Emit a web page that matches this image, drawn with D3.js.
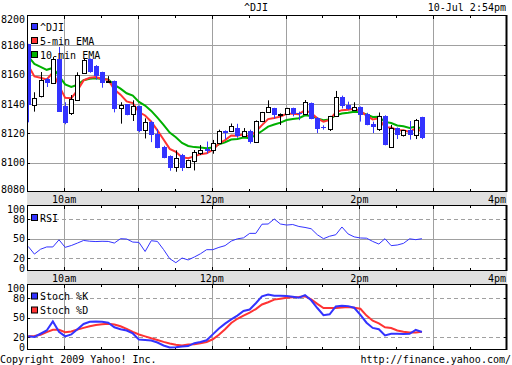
<!DOCTYPE html>
<html>
<head>
<meta charset="utf-8">
<script src="https://cdn.jsdelivr.net/npm/d3@7"></script>
<style>
body { margin: 0; background: #fff; }
text { font-family: "DejaVu Sans Mono", monospace; font-size: 10px; fill: #000; }
</style>
</head>
<body>
<div id="chart"></div>
<script>
// 5-minute candles from 9:30
var opens  = [8180.7,8139.3,8145.3,8157,8154.3,8170.7,8138.8,8134.3,8142.5,8160.7,8170.7,8166.1,8161.6,8154.5,8155.7,8137.1,8139.8,8133,8138.8,8122.5,8127.9,8119.8,8110.7,8104.7,8096.6,8105.2,8096.6,8101.1,8106.9,8109.3,8108.4,8113.4,8121.6,8121.1,8123.4,8118.4,8121.6,8113.9,8127.9,8134.3,8137.1,8132.6,8133,8137.1,8133.6,8133,8140.7,8130.2,8124.3,8123,8131.6,8144.8,8139.3,8136.1,8138,8133.4,8126.2,8122.5,8132,8110.2,8123.4,8118.9,8122.1,8118.4,8131.1];
var highs  = [8181,8148,8161.8,8157.7,8172,8178.9,8141.2,8146.1,8161.6,8171,8171,8166.5,8162,8159,8156,8141.2,8140,8142.5,8139,8130.2,8128.5,8123,8111.5,8105,8108.4,8106,8102,8108.6,8112,8114.4,8115.5,8122.5,8122,8126.7,8126.5,8123.6,8122.5,8128.8,8134.6,8142.5,8137.4,8133.6,8137.4,8137.5,8134.8,8142.7,8141,8131,8125.5,8131.9,8148.9,8145.7,8141.6,8141.2,8138.3,8134,8128,8134.2,8132.3,8125.7,8124,8122.3,8128.4,8129.8,8131.3];
var lows   = [8127.5,8134.8,8144.5,8151.6,8154,8134.8,8126.2,8132.5,8142.5,8160.5,8161.3,8156.6,8151.1,8154.3,8134.3,8126.6,8132.3,8128.4,8120.7,8116.5,8114,8109.8,8103,8094.5,8093.8,8094.3,8096.3,8094.7,8105.2,8106.2,8106.1,8113.2,8116,8121,8117,8118.2,8113,8113.6,8127.6,8134,8130.1,8125.7,8132.8,8131.6,8129,8132.8,8129.6,8120.2,8122.5,8121.6,8131.4,8137,8136.1,8135.9,8128,8125.5,8120.2,8121.6,8111.8,8110,8116.1,8117.8,8115.7,8116.1,8116.1];
var closes = [8138.8,8143.9,8156.2,8154.3,8170.7,8134.8,8127.5,8143.6,8159.8,8169.8,8161.6,8159.3,8154.3,8155.5,8136.6,8139.3,8132.5,8138.4,8122,8127.7,8119.3,8110.2,8103.4,8096.6,8103,8096.6,8101.6,8107,8108.8,8107.6,8113.4,8121.6,8120.2,8124.7,8118,8121.6,8114.3,8128.4,8134.3,8138,8132,8133.3,8137.1,8133.3,8132.6,8141.2,8129.8,8123,8123.4,8131.6,8144.8,8138.8,8136.6,8138,8132.5,8125.7,8124.3,8131.6,8112,8123.4,8118.4,8122.1,8118.4,8128.9,8116.6];

var ema5  = [8166.3,8158.8,8157.9,8156.7,8161.4,8152.5,8144.2,8144,8149.3,8156.1,8157.9,8158.4,8157,8156.5,8149.9,8146.4,8141.8,8140.6,8134.4,8132.2,8127.9,8122,8115.8,8109.4,8107.3,8103.7,8103,8104.3,8105.8,8106.4,8108.7,8113,8115.4,8118.5,8118.3,8119.4,8117.7,8121.3,8125.6,8129.7,8130.5,8131.4,8133.3,8133.3,8133.1,8135.8,8133.8,8130.2,8127.9,8129.1,8134.3,8135.8,8136.1,8136.7,8135.3,8132.1,8129.5,8130.2,8124.1,8123.9,8122.1,8122.1,8120.9,8123.6,8121.2];
var ema10 = [8172.5,8167.3,8165.3,8163.3,8164.6,8159.2,8153.4,8151.6,8153.1,8156.2,8157.2,8157.5,8157,8156.7,8153,8150.5,8147.3,8145.7,8141.4,8138.9,8135.3,8130.7,8125.8,8120.5,8117.3,8113.5,8111.4,8110.6,8110.3,8109.8,8110.4,8112.5,8113.9,8115.8,8116.2,8117.2,8116.7,8118.8,8121.6,8124.6,8126,8127.3,8129.1,8129.8,8130.3,8132.3,8131.8,8130.2,8129,8129.5,8132.3,8133.5,8134,8134.7,8134.3,8132.8,8131.2,8131.3,8127.8,8127,8125.4,8124.8,8123.7,8124.6,8123.2];

var rsi = [37.8,26,33.5,37,37,48,36.4,39.2,43,47,45.8,45.3,45.7,45.5,43,49.7,49.2,44.5,44,30,46.6,45.5,33,19,12.8,20,17,21.5,26.5,32.8,32.8,36.3,39,46,49.5,51,57.9,57.9,72,72.3,80,72.3,70.7,71.5,68.5,67,65,55.8,49.7,53.5,55.8,67.7,57,52.5,50.8,50.5,45.5,41.5,49.7,39,40,42.5,49.5,48.2,49.7];
var stochK = [21,20,25,30,44,28,21,24,32,40,43.5,43.8,43.6,42,35,32,30,25.5,16,15.3,14.5,11.5,7,4,4.2,5.5,6,10.5,12.2,15,24,33,40.5,47,53,60,62.3,72,82.5,85.3,83.5,83.5,83,82,80.5,84.5,76.5,64.6,53.5,55,67,68,67.5,65,54,42,34,32,22.5,25,25,24.8,25,31,27.7];
var stochD = [21,21.5,23.5,27.5,31,31.2,27.5,28.5,31.5,34,36.5,38.5,39.5,40.5,39.2,36.5,32.5,28,23.8,21,18,15.5,12.5,10,8,7,8.3,9,10.5,12.3,16.5,23.5,32,41.5,48,53,57.5,63,70,73.5,77.5,79,80.3,81,81.5,82.5,78,71,64.6,64.6,64.6,65.2,66,65,63.5,53,45,41,35,33.7,30,28,26.8,27,28.2];

var priceTicks = [8080,8100,8120,8140,8160,8180,8200];
var oscTicks = [0,20,50,80,100];
var hourLabels = [[10,"10am"],[12,"12pm"],[14,"2pm"],[16,"4pm"]];

var blue = "#3333ff", red = "#ff3333", green = "#00b000", grid = "#a0a0a0";
var L = 27, R = 507;

var times = closes.map(function(d, i) { return new Date(2009, 6, 10, 9, 30 + 5 * i); });
var x = d3.scaleTime()
	.domain([new Date(2009, 6, 10, 9, 30), new Date(2009, 6, 10, 16, 0)])
	.range([27.25, 507]);
function cx(i) { return x(times[i]) + 1; }
function at(h, m) { return new Date(2009, 6, 10, h, m); }

var svg = d3.select("#chart").append("svg")
	.attr("width", 512).attr("height", 365);

var panels = [
	{ top: 15, bottom: 192, y: d3.scaleLinear().domain([8080, 8200]).range([192, 16]), ticks: priceTicks, dashed: [] },
	{ top: 205, bottom: 271, y: d3.scaleLinear().domain([0, 100]).range([271, 206]), ticks: oscTicks, dashed: [20, 80] },
	{ top: 284, bottom: 350, y: d3.scaleLinear().domain([0, 100]).range([350, 285]), ticks: oscTicks, dashed: [20, 80] }
];

// grey time bands with labels
[192, 271].forEach(function(t) {
	svg.append("rect").attr("x", L).attr("y", t).attr("width", R - L).attr("height", 13).attr("fill", "#e0e0e0");
	hourLabels.forEach(function(h) {
		var px = x(at(h[0], 0));
		var anchor = "middle";
		if (px + 12 > R) { px = R - 1; anchor = "end"; }
		svg.append("text").attr("x", px).attr("y", t + 10.5).attr("text-anchor", anchor).text(h[1]);
	});
});

var hours = [10, 11, 12, 13, 14, 15];
var halves = [at(9,30), at(10,30), at(11,30), at(12,30), at(13,30), at(14,30), at(15,30)];

panels.forEach(function(p, k) {
	var g = svg.append("g");
	g.append("rect").attr("x", L).attr("y", p.top).attr("width", R - L).attr("height", p.bottom - p.top).attr("fill", "#fff");

	// horizontal grid
	p.ticks.forEach(function(v) {
		var yy = Math.round(p.y(v)) + 0.5;
		if (yy <= p.top + 2 || yy >= p.bottom - 1) return;
		g.append("line").attr("x1", L).attr("x2", R).attr("y1", yy).attr("y2", yy)
			.attr("stroke", grid).attr("stroke-width", 1)
			.attr("stroke-dasharray", p.dashed.indexOf(v) >= 0 ? "4,3" : null);
		g.append("line").attr("x1", L).attr("x2", L + 3).attr("y1", yy).attr("y2", yy).attr("stroke", "#000");
		g.append("line").attr("x1", R - 3).attr("x2", R).attr("y1", yy).attr("y2", yy).attr("stroke", "#000");
	});

	// vertical grid
	hours.forEach(function(h) {
		var xx = Math.round(x(at(h, 0))) + 0.5;
		g.append("line").attr("x1", xx).attr("x2", xx).attr("y1", p.top).attr("y2", p.bottom)
			.attr("stroke", grid).attr("stroke-width", 1);
		g.append("line").attr("x1", xx).attr("x2", xx).attr("y1", p.top).attr("y2", p.top + 4).attr("stroke", "#000");
		g.append("line").attr("x1", xx).attr("x2", xx).attr("y1", p.bottom - 4).attr("y2", p.bottom).attr("stroke", "#000");
	});
	halves.forEach(function(t) {
		var xx = Math.round(x(t)) + 0.5;
		g.append("line").attr("x1", xx).attr("x2", xx).attr("y1", p.top).attr("y2", p.top + 3).attr("stroke", "#000");
		g.append("line").attr("x1", xx).attr("x2", xx).attr("y1", p.bottom - 3).attr("y2", p.bottom).attr("stroke", "#000");
	});

	// value labels
	p.ticks.forEach(function(v) {
		var yy = Math.max(p.top + 4.5, Math.min(p.bottom - 2.5, p.y(v)));
		svg.append("text").attr("x", 25).attr("y", yy + 3.6).attr("text-anchor", "end").text(k == 0 ? v : v);
	});

	svg.append("clipPath").attr("id", "clip" + k).append("rect")
		.attr("x", L + 1).attr("y", p.top + 1).attr("width", R - L - 2).attr("height", p.bottom - p.top - 1);
	p.g = svg.append("g").attr("clip-path", "url(#clip" + k + ")");
});

// main panel: EMA lines then candles
var y0 = panels[0].y;
function seriesLine(sc) {
	return d3.line().x(function(d, i) { return cx(i); }).y(function(d) { return sc(d); });
}
var mg = panels[0].g;
mg.append("path").datum(ema10).attr("d", seriesLine(y0)).attr("fill", "none").attr("stroke", green).attr("stroke-width", 2);
mg.append("path").datum(ema5).attr("d", seriesLine(y0)).attr("fill", "none").attr("stroke", red).attr("stroke-width", 2);

var candles = mg.selectAll("g.candle").data(closes).enter().append("g");
candles.append("line")
	.attr("x1", function(d, i) { return Math.round(cx(i)) + 0.5; })
	.attr("x2", function(d, i) { return Math.round(cx(i)) + 0.5; })
	.attr("y1", function(d, i) { return y0(highs[i]); })
	.attr("y2", function(d, i) { return y0(lows[i]); })
	.attr("stroke", function(d, i) { return closes[i] >= opens[i] ? "#000" : blue; });
candles.append("rect")
	.attr("x", function(d, i) { return closes[i] >= opens[i] ? Math.round(cx(i)) - 1.5 : Math.round(cx(i)) - 2; })
	.attr("width", function(d, i) { return closes[i] >= opens[i] ? 4 : 5; })
	.attr("y", function(d, i) { return Math.round(y0(Math.max(opens[i], closes[i]))) + (closes[i] >= opens[i] ? 0.5 : 0); })
	.attr("height", function(d, i) { return Math.max(1, Math.round(y0(Math.min(opens[i], closes[i])) - y0(Math.max(opens[i], closes[i])))); })
	.attr("fill", function(d, i) { return closes[i] >= opens[i] ? "#fff" : blue; })
	.attr("stroke", function(d, i) { return closes[i] >= opens[i] ? "#000" : "none"; });

// RSI
panels[1].g.append("path").datum(rsi).attr("d", seriesLine(panels[1].y))
	.attr("fill", "none").attr("stroke", blue).attr("stroke-width", 1);

// Stochastics
panels[2].g.append("path").datum(stochD).attr("d", seriesLine(panels[2].y))
	.attr("fill", "none").attr("stroke", red).attr("stroke-width", 2);
panels[2].g.append("path").datum(stochK).attr("d", seriesLine(panels[2].y))
	.attr("fill", "none").attr("stroke", blue).attr("stroke-width", 2);

// borders
panels.forEach(function(p) {
	svg.append("rect").attr("x", L + 0.5).attr("y", p.top + 0.5).attr("width", R - L - 1).attr("height", p.bottom - p.top - 1)
		.attr("fill", "none").attr("stroke", "#000");
	svg.append("line").attr("x1", R - 0.5).attr("x2", R - 0.5).attr("y1", p.top).attr("y2", p.bottom).attr("stroke", "#000").attr("stroke-width", 2);
});

// legends
function legend(items, x0, y0) {
	items.forEach(function(it, j) {
		var yy = y0 + j * 14;
		svg.append("rect").attr("x", x0 + 0.5).attr("y", yy - 6.5).attr("width", 6).attr("height", 6)
			.attr("fill", it[1]).attr("stroke", "#000");
		svg.append("text").attr("x", x0 + 9).attr("y", yy + 0.5).text(it[0]);
	});
}
legend([["^DJI", blue], ["5-min EMA", red], ["10-min EMA", green]], 31, 30);
legend([["RSI", blue]], 31, 221);
legend([["Stoch %K", blue], ["Stoch %D", red]], 31, 299.5);

svg.append("text").attr("x", 256).attr("y", 11).attr("text-anchor", "middle").text("^DJI");
svg.append("text").attr("x", 506).attr("y", 11).attr("text-anchor", "end").text("10-Jul 2:54pm");
svg.append("text").attr("x", 0).attr("y", 363).text("Copyright 2009 Yahoo! Inc.");
svg.append("text").attr("x", 511).attr("y", 363).attr("text-anchor", "end").text("http://finance.yahoo.com/");
</script>
</body>
</html>
